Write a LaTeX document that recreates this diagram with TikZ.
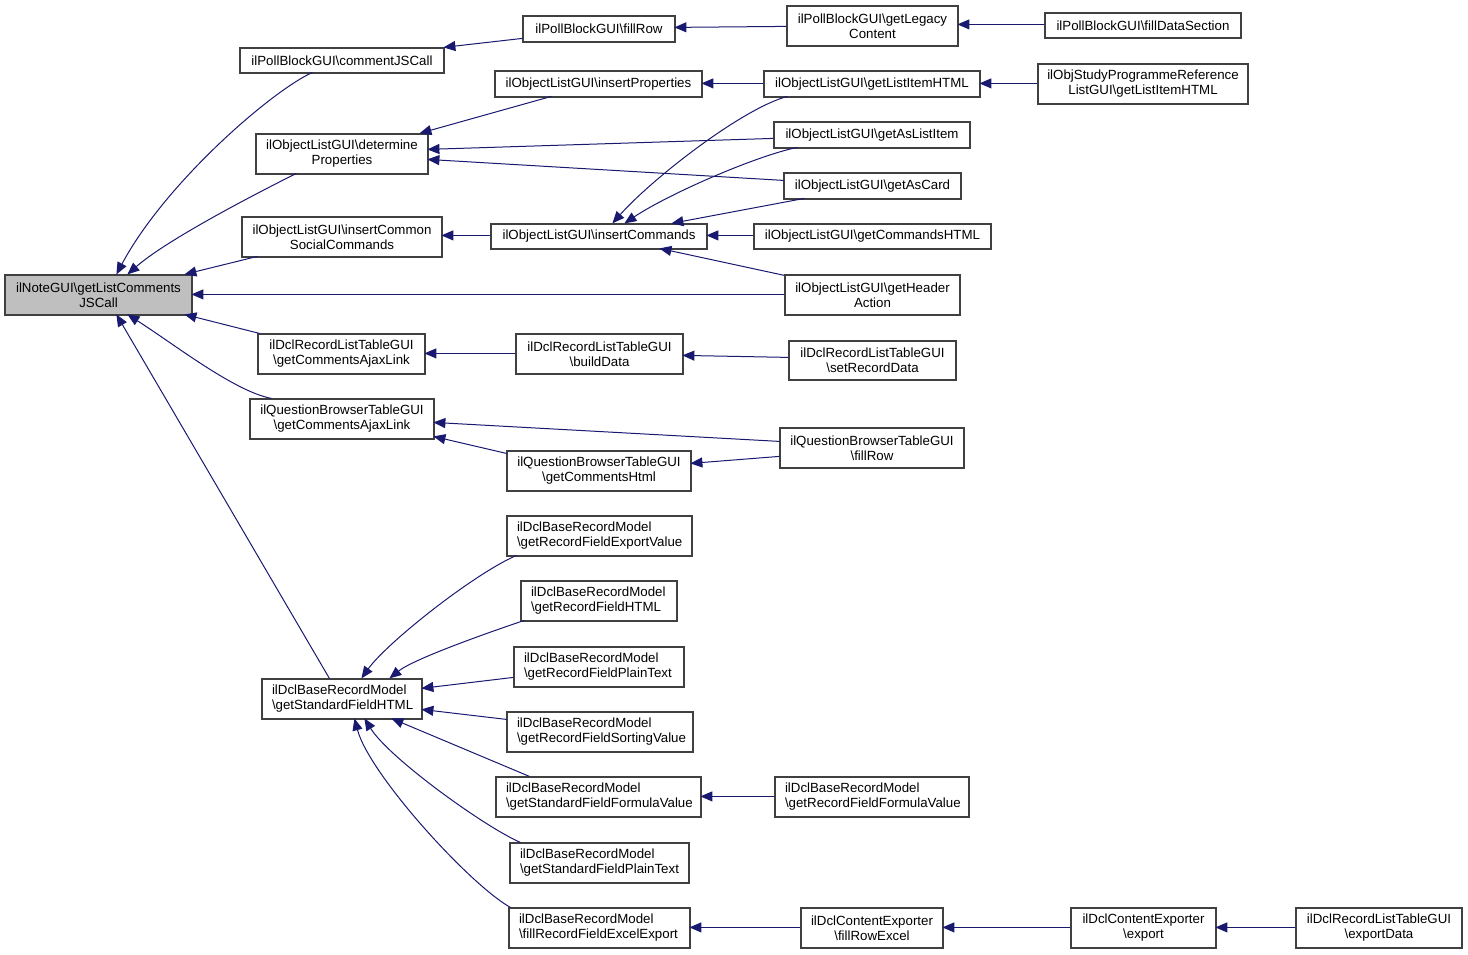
\documentclass[tikz,border=0pt]{standalone}
\usepackage{fontspec}
\setmainfont{Liberation Sans}
\usetikzlibrary{arrows.meta}
\definecolor{edgec}{HTML}{191970}
\definecolor{boxc}{HTML}{404040}
\definecolor{mainfill}{HTML}{BFBFBF}
\newcommand\bs{\textbackslash}
\tikzset{
  box/.style={draw=boxc, line width=1.2pt, fill=white, align=center, inner sep=2pt,
    font=\fontsize{13.3}{15}\selectfont},
  lbox/.style={box, align=left, inner xsep=10pt},
  edge/.style={draw=edgec, line width=1pt, -{Triangle[length=12pt,width=10pt]}}
}
\begin{document}
\begin{tikzpicture}[x=1pt,y=-1pt]
\useasboundingbox (0,0) rectangle (1468,955);
% column 1
\node[box, fill=mainfill, minimum width=187, minimum height=40] (main) at (98.5,295) {ilNoteGUI\bs getListComments\\JSCall};
% column 2
\node[box, minimum width=204, minimum height=25] (cjs) at (342,60.5) {ilPollBlockGUI\bs commentJSCall};
\node[box, minimum width=172, minimum height=40] (detp) at (342,154) {ilObjectListGUI\bs determine\\Properties};
\node[box, minimum width=200, minimum height=40] (ics) at (342,237) {ilObjectListGUI\bs insertCommon\\SocialCommands};
\node[box, minimum width=167, minimum height=40] (dclajax) at (341.5,354) {ilDclRecordListTableGUI\\\bs getCommentsAjaxLink};
\node[box, minimum width=184, minimum height=40] (qbajax) at (342,419) {ilQuestionBrowserTableGUI\\\bs getCommentsAjaxLink};
\node[lbox, text width=140, minimum height=40] (sfh) at (342,699) {ilDclBaseRecordModel\\\bs getStandardFieldHTML};
% column 3
\node[box, minimum width=152, minimum height=26] (pfill) at (599,29) {ilPollBlockGUI\bs fillRow};
\node[box, minimum width=207, minimum height=26] (inprop) at (598.5,84) {ilObjectListGUI\bs insertProperties};
\node[box, minimum width=216, minimum height=25] (incmd) at (599,236.5) {ilObjectListGUI\bs insertCommands};
\node[box, minimum width=167, minimum height=40] (bdata) at (599.5,354) {ilDclRecordListTableGUI\\\bs buildData};
\node[box, minimum width=184, minimum height=40] (qbhtml) at (599,471) {ilQuestionBrowserTableGUI\\\bs getCommentsHtml};
\node[lbox, text width=165, minimum height=40] (rfexp) at (599.5,536) {ilDclBaseRecordModel\\\bs getRecordFieldExportValue};
\node[lbox, text width=136, minimum height=40] (rfhtml) at (599,601) {ilDclBaseRecordModel\\\bs getRecordFieldHTML};
\node[lbox, text width=150, minimum height=40] (rfplain) at (599,667) {ilDclBaseRecordModel\\\bs getRecordFieldPlainText};
\node[lbox, text width=166, minimum height=40] (rfsort) at (600,732) {ilDclBaseRecordModel\\\bs getRecordFieldSortingValue};
\node[lbox, text width=185, minimum height=40] (sfform) at (598.5,797) {ilDclBaseRecordModel\\\bs getStandardFieldFormulaValue};
\node[lbox, text width=159, minimum height=40] (sfplain) at (599.5,863) {ilDclBaseRecordModel\\\bs getStandardFieldPlainText};
\node[lbox, text width=161, minimum height=40] (excel) at (599.5,928) {ilDclBaseRecordModel\\\bs fillRecordFieldExcelExport};
% column 4
\node[box, minimum width=171, minimum height=40] (legacy) at (872.5,26) {ilPollBlockGUI\bs getLegacy\\Content};
\node[box, minimum width=216, minimum height=26] (lihtml) at (872,84) {ilObjectListGUI\bs getListItemHTML};
\node[box, minimum width=196, minimum height=26] (aslist) at (872,135) {ilObjectListGUI\bs getAsListItem};
\node[box, minimum width=177, minimum height=26] (ascard) at (872.5,186) {ilObjectListGUI\bs getAsCard};
\node[box, minimum width=237, minimum height=25] (cmdhtml) at (872.5,236.5) {ilObjectListGUI\bs getCommandsHTML};
\node[box, minimum width=175, minimum height=40] (header) at (872.5,295) {ilObjectListGUI\bs getHeader\\Action};
\node[box, minimum width=167, minimum height=39] (setrec) at (872.5,360.5) {ilDclRecordListTableGUI\\\bs setRecordData};
\node[box, minimum width=184, minimum height=40] (qbfill) at (872,448) {ilQuestionBrowserTableGUI\\\bs fillRow};
\node[lbox, text width=174, minimum height=40] (rfform) at (872,797) {ilDclBaseRecordModel\\\bs getRecordFieldFormulaValue};
\node[box, minimum width=142, minimum height=40] (rowexcel) at (872,928) {ilDclContentExporter\\\bs fillRowExcel};
% column 5
\node[box, minimum width=196, minimum height=25] (filldata) at (1143,25.5) {ilPollBlockGUI\bs fillDataSection};
\node[box, minimum width=210, minimum height=40] (studyprog) at (1143,84) {ilObjStudyProgrammeReference\\ListGUI\bs getListItemHTML};
\node[box, minimum width=145, minimum height=40] (export) at (1143.5,928) {ilDclContentExporter\\\bs export};
% column 6
\node[box, minimum width=166, minimum height=40] (exportdata) at (1379,928) {ilDclRecordListTableGUI\\\bs exportData};

% edges into main
\draw[edge] ([shift={(73,25)}]cjs.north west) .. controls +(-43,20) and +(48,-90) .. ([shift={(112,0)}]main.north west);
\draw[edge] ([shift={(41,40)}]detp.north west) .. controls +(-40,20) and +(40,-35) .. ([shift={(123,0)}]main.north west);
\draw[edge] ([shift={(16,40)}]ics.north west) -- ([shift={(180,0)}]main.north west);
\draw[edge] ([shift={(0,20)}]header.north west) -- ([shift={(187,20)}]main.north west);
\draw[edge] ([shift={(2,0)}]dclajax.north west) -- ([shift={(180,40)}]main.north west);
\draw[edge] ([shift={(22,0)}]qbajax.north west) .. controls +(-37,-7) and +(47,30) .. ([shift={(123,40)}]main.north west);
\draw[edge] ([shift={(68,0)}]sfh.north west) -- ([shift={(112,40)}]main.north west);
% poll block chain
\draw[edge] ([shift={(0,23)}]pfill.north west) -- ([shift={(204,0)}]cjs.north west);
\draw[edge] ([shift={(0,21)}]legacy.north west) -- ([shift={(152,12)}]pfill.north west);
\draw[edge] ([shift={(0,12)}]filldata.north west) -- ([shift={(171,19)}]legacy.north west);
% object list
\draw[edge] ([shift={(57,26)}]inprop.north west) -- ([shift={(164,0)}]detp.north west);
\draw[edge] ([shift={(0,17)}]aslist.north west) -- ([shift={(172,16)}]detp.north west);
\draw[edge] ([shift={(0,8)}]ascard.north west) -- ([shift={(172,26)}]detp.north west);
\draw[edge] ([shift={(0,13)}]lihtml.north west) -- ([shift={(207,13)}]inprop.north west);
\draw[edge] ([shift={(0,20)}]studyprog.north west) -- ([shift={(216,13)}]lihtml.north west);
\draw[edge] ([shift={(0,12)}]incmd.north west) -- ([shift={(200,19)}]ics.north west);
\draw[edge] ([shift={(24,26)}]lihtml.north west) .. controls +(-45,12) and +(40,-45) .. ([shift={(122,0)}]incmd.north west);
\draw[edge] ([shift={(24,26)}]aslist.north west) .. controls +(-40,8) and +(45,-30) .. ([shift={(134,0)}]incmd.north west);
\draw[edge] ([shift={(21,26)}]ascard.north west) -- ([shift={(181,0)}]incmd.north west);
\draw[edge] ([shift={(0,12)}]cmdhtml.north west) -- ([shift={(216,12)}]incmd.north west);
\draw[edge] ([shift={(0,1)}]header.north west) -- ([shift={(169,25)}]incmd.north west);
% dcl record list
\draw[edge] ([shift={(0,20)}]bdata.north west) -- ([shift={(167,20)}]dclajax.north west);
\draw[edge] ([shift={(0,17)}]setrec.north west) -- ([shift={(167,22)}]bdata.north west);
% question browser
\draw[edge] ([shift={(0,14)}]qbfill.north west) -- ([shift={(184,24)}]qbajax.north west);
\draw[edge] ([shift={(0,3)}]qbhtml.north west) -- ([shift={(184,38)}]qbajax.north west);
\draw[edge] ([shift={(0,29)}]qbfill.north west) -- ([shift={(184,13)}]qbhtml.north west);
% standard field html
\draw[edge] ([shift={(10,40)}]rfexp.north west) .. controls +(-45,20) and +(25,-35) .. ([shift={(100,0)}]sfh.north west);
\draw[edge] ([shift={(4,40)}]rfhtml.north west) .. controls +(-30,10) and +(25,-20) .. ([shift={(128,0)}]sfh.north west);
\draw[edge] ([shift={(0,31)}]rfplain.north west) -- ([shift={(160,10)}]sfh.north west);
\draw[edge] ([shift={(0,8)}]rfsort.north west) -- ([shift={(160,31)}]sfh.north west);
\draw[edge] ([shift={(34,0)}]sfform.north west) -- ([shift={(130,40)}]sfh.north west);
\draw[edge] ([shift={(11,0)}]sfplain.north west) .. controls +(-35,-15) and +(25,40) .. ([shift={(103,40)}]sfh.north west);
\draw[edge] ([shift={(2,0)}]excel.north west) .. controls +(-41,-23) and +(15,56) .. ([shift={(93,40)}]sfh.north west);
\draw[edge] ([shift={(0,20)}]rfform.north west) -- ([shift={(205,20)}]sfform.north west);
\draw[edge] ([shift={(0,20)}]rowexcel.north west) -- ([shift={(181,20)}]excel.north west);
\draw[edge] ([shift={(0,20)}]export.north west) -- ([shift={(142,20)}]rowexcel.north west);
\draw[edge] ([shift={(0,20)}]exportdata.north west) -- ([shift={(145,20)}]export.north west);
\end{tikzpicture}
\end{document}
